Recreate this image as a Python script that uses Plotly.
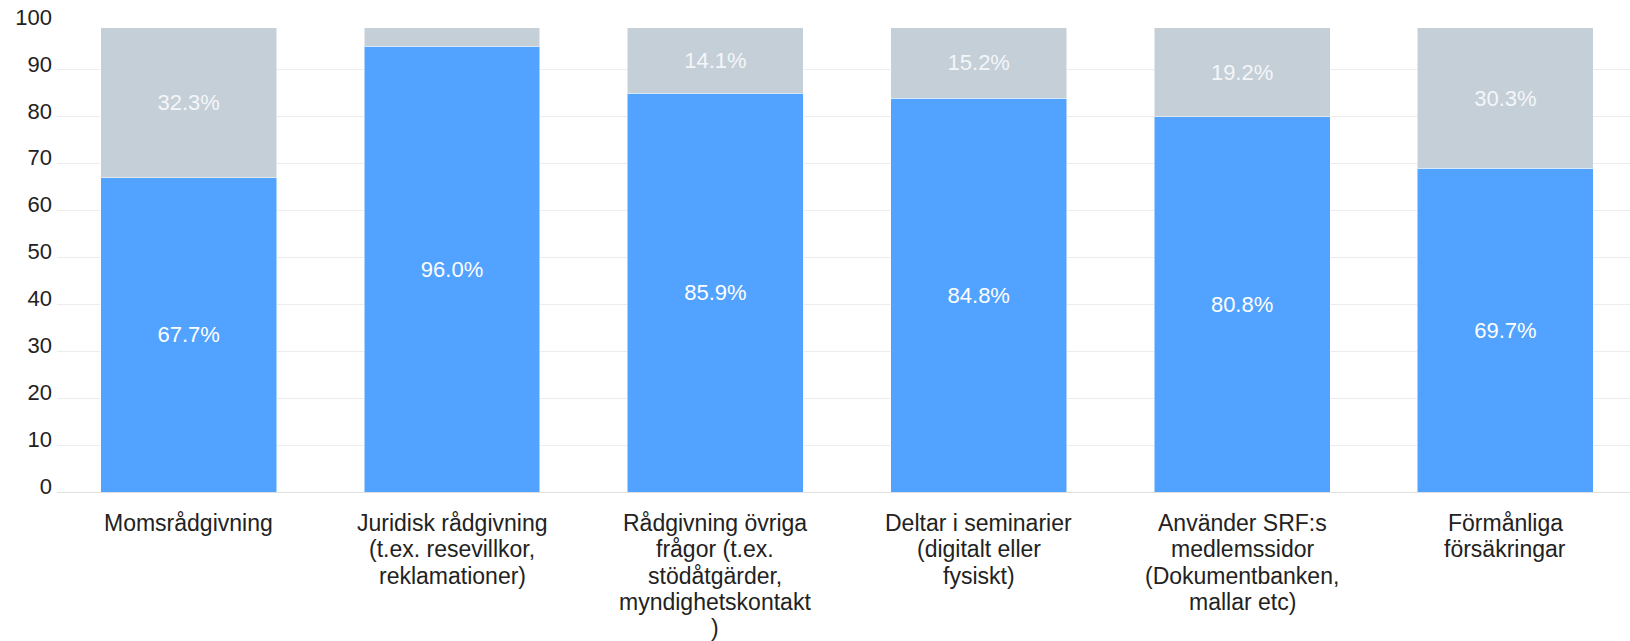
import plotly.graph_objects as go

categories = [
    "Momsrådgivning",
    "Juridisk rådgivning<br>(t.ex. resevillkor,<br>reklamationer)",
    "Rådgivning övriga<br>frågor (t.ex.<br>stödåtgärder,<br>myndighetskontakt<br>)",
    "Deltar i seminarier<br>(digitalt eller<br>fysiskt)",
    "Använder SRF:s<br>medlemssidor<br>(Dokumentbanken,<br>mallar etc)",
    "Förmånliga<br>försäkringar",
]
yes_counts = [67, 95, 85, 84, 80, 69]
no_counts = [32, 4, 14, 15, 19, 30]
y_ticks = [0, 10, 20, 30, 40, 50, 60, 70, 80, 90, 100]

totals = [a + b for a, b in zip(yes_counts, no_counts)]
yes_text = [f"{a / t * 100:.1f}%" for a, t in zip(yes_counts, totals)]
no_text = [f"{b / t * 100:.1f}%" for b, t in zip(no_counts, totals)]

FONT = "Liberation Sans, Arial, sans-serif"
x_idx = list(range(len(categories)))

fig = go.Figure()
fig.add_trace(go.Bar(
    x=x_idx, y=yes_counts, text=yes_text, marker_color="#52a3ff",
    marker_line=dict(color="rgba(255,255,255,0.5)", width=1),
    textposition="inside", insidetextanchor="middle",
    textfont=dict(color="white", size=22, family=FONT), width=0.668,
))
fig.add_trace(go.Bar(
    x=x_idx, y=no_counts, text=no_text, marker_color="#c5cfd8",
    marker_line=dict(color="rgba(255,255,255,0.5)", width=1),
    textposition="inside", insidetextanchor="middle",
    textfont=dict(color="#f4f6f8", size=22, family=FONT), width=0.668,
))

annotations = []
line_h = 26.3
for i, lab in enumerate(categories):
    for j, line in enumerate(lab.split("<br>")):
        annotations.append(dict(
            x=i, y=0, xref="x", yref="y", text=line, showarrow=False,
            xanchor="center", yanchor="middle",
            yshift=-(31 + j * line_h),
            font=dict(size=23, color="#222222", family=FONT),
        ))

fig.update_layout(
    barmode="stack",
    width=1630, height=641,
    margin=dict(l=57, r=0, t=23, b=149, autoexpand=False),
    paper_bgcolor="white", plot_bgcolor="white",
    showlegend=False,
    uniformtext=dict(minsize=22, mode="hide"),
    annotations=annotations,
    font=dict(family=FONT, size=22, color="#222222"),
)
fig.update_xaxes(range=[-0.5, 5.473], showticklabels=False, showgrid=False,
                 zeroline=False, showline=False, fixedrange=True, automargin=False)
fig.update_yaxes(range=[0, 100], tickvals=y_ticks, showgrid=True,
                 gridcolor="#ececec", gridwidth=1, zeroline=True,
                 zerolinecolor="#e0e0e0", zerolinewidth=1, automargin=False,
                 tickfont=dict(size=22, color="#222222", family=FONT),
                 ticklabelstandoff=4, ticklabelshift=-6,
                 ticklabeloverflow="allow")

fig.write_html(
    "out.html",
    config={"displayModeBar": False},
    post_script="document.body.style.margin='0';document.body.style.overflow='hidden';",
)
